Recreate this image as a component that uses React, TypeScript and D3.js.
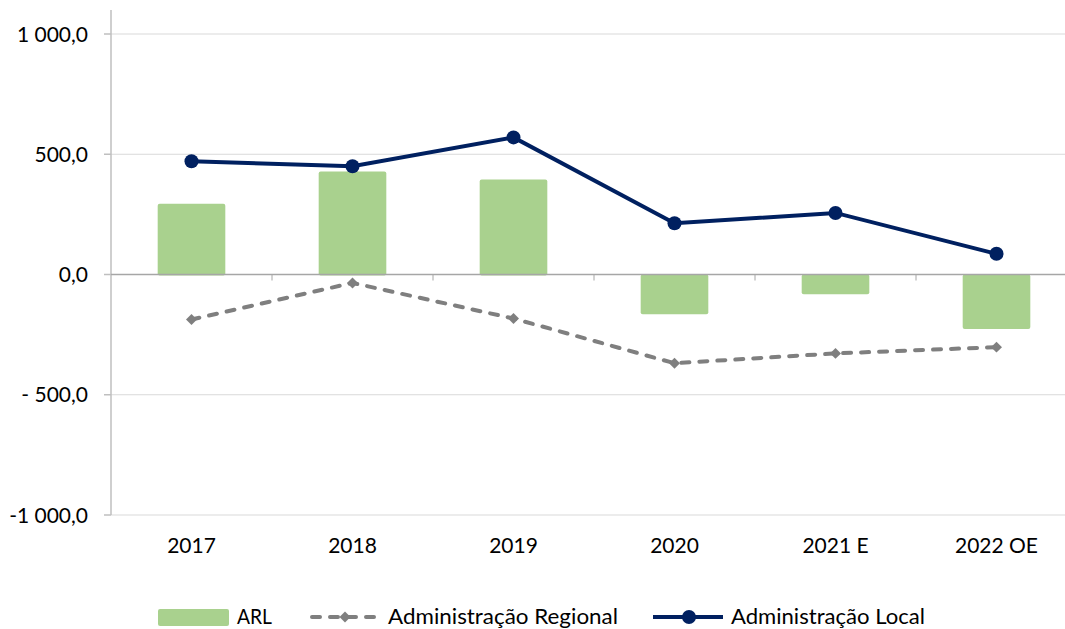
import { useEffect, useRef } from 'react'
import * as d3 from 'd3'

const categories = ['2017', '2018', '2019', '2020', '2021 E', '2022 OE']
const arl = [294, 428, 395, -161, -78, -222]
const adminRegional = [-187, -35, -183, -369, -328, -302]
const adminLocal = [471, 450, 570, 213, 256, 86]
const yTicks = [1000, 500, 0, -500, -1000]
const yTickLabels = ['1 000,0', '500,0', '0,0', '- 500,0', '-1 000,0']

export default function App() {
  const svgRef = useRef<SVGSVGElement>(null)
  const width = 1065
  const height = 629

  useEffect(() => {
    if (!svgRef.current) return
    const svg = d3.select(svgRef.current)
    svg.selectAll('*').remove()

    const font = 'Lato, "Open Sans", sans-serif'
    const green = '#a9d18e'
    const navy = '#002060'
    const gray = '#7f7f7f'

    const x = d3.scaleBand().domain(categories).range([111, 1077]).padding(0)
    const y = d3.scaleLinear().domain([-1000, 1000]).range([515, 34])
    const barW = x.bandwidth() * 0.42
    const cx = (c: string) => (x(c) as number) + x.bandwidth() / 2

    // gridlines
    svg.append('g')
      .selectAll('line')
      .data(yTicks.filter(t => t !== 0))
      .join('line')
      .attr('x1', 111).attr('x2', 1077)
      .attr('y1', d => y(d)).attr('y2', d => y(d))
      .attr('stroke', '#d9d9d9').attr('stroke-width', 1)

    // y axis
    svg.append('line')
      .attr('x1', 111).attr('x2', 111).attr('y1', 10).attr('y2', y(-1000))
      .attr('stroke', '#bfbfbf').attr('stroke-width', 1.5)
    svg.append('g')
      .selectAll('line')
      .data(yTicks)
      .join('line')
      .attr('x1', 104).attr('x2', 111)
      .attr('y1', d => y(d)).attr('y2', d => y(d))
      .attr('stroke', '#bfbfbf').attr('stroke-width', 1.5)
    svg.append('g')
      .selectAll('text')
      .data(yTicks)
      .join('text')
      .attr('x', 88).attr('y', d => y(d))
      .attr('dy', '0.36em')
      .attr('text-anchor', 'end')
      .style('font', `21px ${font}`)
      .attr('fill', '#000')
      .text((d, i) => yTickLabels[i])

    // bars
    svg.append('g')
      .selectAll('rect')
      .data(categories)
      .join('rect')
      .attr('x', c => cx(c) - barW / 2)
      .attr('width', barW)
      .attr('y', (c, i) => y(Math.max(0, arl[i])))
      .attr('height', (c, i) => Math.abs(y(arl[i]) - y(0)) + 1)
      .attr('rx', 2)
      .attr('fill', green)

    // zero line with category ticks
    svg.append('line')
      .attr('x1', 111).attr('x2', 1077).attr('y1', y(0)).attr('y2', y(0))
      .attr('stroke', '#a6a6a6').attr('stroke-width', 1.5)
    svg.append('g')
      .selectAll('line')
      .data(categories.slice(1))
      .join('line')
      .attr('x1', c => x(c) as number).attr('x2', c => x(c) as number)
      .attr('y1', y(0)).attr('y2', y(0) + 6)
      .attr('stroke', '#a6a6a6').attr('stroke-width', 1)

    // x labels
    svg.append('g')
      .selectAll('text')
      .data(categories)
      .join('text')
      .attr('x', c => cx(c)).attr('y', 553)
      .attr('text-anchor', 'middle')
      .style('font', `21px ${font}`)
      .attr('fill', '#000')
      .text(c => c)

    const line = d3.line<number>()
      .x((d, i) => cx(categories[i]))
      .y(d => y(d))

    // regional
    svg.append('path')
      .datum(adminRegional)
      .attr('d', line)
      .attr('fill', 'none')
      .attr('stroke', gray)
      .attr('stroke-width', 4)
      .attr('stroke-dasharray', '8 10')
      .attr('stroke-linecap', 'round')
    const diamond = d3.symbol().type(d3.symbolSquare).size(60)
    svg.append('g')
      .selectAll('path')
      .data(adminRegional)
      .join('path')
      .attr('d', diamond)
      .attr('transform', (d, i) => `translate(${cx(categories[i])},${y(d)}) rotate(45)`)
      .attr('fill', gray)

    // local
    svg.append('path')
      .datum(adminLocal)
      .attr('d', line)
      .attr('fill', 'none')
      .attr('stroke', navy)
      .attr('stroke-width', 4)
    svg.append('g')
      .selectAll('circle')
      .data(adminLocal)
      .join('circle')
      .attr('cx', (d, i) => cx(categories[i]))
      .attr('cy', d => y(d))
      .attr('r', 7)
      .attr('fill', navy)

    // legend
    const lg = svg.append('g').style('font', `21px ${font}`)
    const ly = 617
    lg.append('rect').attr('x', 158).attr('y', 609).attr('width', 71).attr('height', 17).attr('rx', 2).attr('fill', green)
    lg.append('text').attr('x', 237).attr('y', ly - 1).attr('dy', '0.36em').text('ARL')
      .attr('textLength', 35).attr('lengthAdjust', 'spacingAndGlyphs')

    lg.append('line').attr('x1', 312).attr('x2', 378).attr('y1', ly).attr('y2', ly)
      .attr('stroke', gray).attr('stroke-width', 4).attr('stroke-dasharray', '8 10').attr('stroke-linecap', 'round')
    lg.append('path').attr('d', diamond).attr('transform', `translate(345,${ly}) rotate(45)`).attr('fill', gray)
    lg.append('text').attr('x', 388).attr('y', ly - 1).attr('dy', '0.36em').text('Administração Regional')
      .attr('textLength', 230).attr('lengthAdjust', 'spacingAndGlyphs')

    lg.append('line').attr('x1', 653).attr('x2', 723).attr('y1', ly).attr('y2', ly)
      .attr('stroke', navy).attr('stroke-width', 4)
    lg.append('circle').attr('cx', 689).attr('cy', ly).attr('r', 7).attr('fill', navy)
    lg.append('text').attr('x', 731).attr('y', ly - 1).attr('dy', '0.36em').text('Administração Local')
      .attr('textLength', 194).attr('lengthAdjust', 'spacingAndGlyphs')
  }, [])

  return (
    <svg
      ref={svgRef}
      width={width}
      height={height}
      style={{ position: 'absolute', left: 0, top: 0, background: '#fff' }}
    />
  )
}
